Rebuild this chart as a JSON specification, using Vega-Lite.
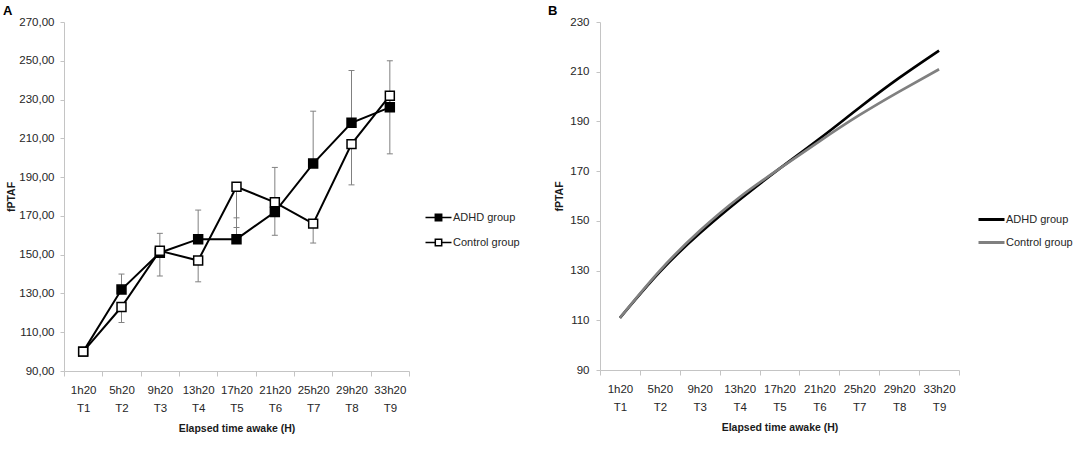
{
  "$schema": "https://vega.github.io/schema/vega-lite/v6.json",
  "background": "white",
  "padding": {"left": 3, "top": 5, "right": 5, "bottom": 5},
  "config": {
    "view": {"stroke": null},
    "font": "Liberation Sans",
    "axis": {
      "grid": false,
      "domainColor": "#c4c4c4",
      "tickColor": "#c4c4c4",
      "labelColor": "#262626",
      "labelFontSize": 11.5,
      "titleFontSize": 10.5,
      "titleFontWeight": "bold",
      "titleColor": "#1a1a1a",
      "labelOverlap": false
    },
    "legend": {"labelFontSize": 11, "labelColor": "#262626", "title": null}
  },
  "datasets": {
    "a": [
      {"time": "1h20 T1", "group": "ADHD group", "value": 100},
      {"time": "5h20 T2", "group": "ADHD group", "value": 132, "err": 140},
      {"time": "9h20 T3", "group": "ADHD group", "value": 151, "err": 161},
      {"time": "13h20 T4", "group": "ADHD group", "value": 158, "err": 173},
      {"time": "17h20 T5", "group": "ADHD group", "value": 158, "err": 169},
      {"time": "21h20 T6", "group": "ADHD group", "value": 172, "err": 195},
      {"time": "25h20 T7", "group": "ADHD group", "value": 197, "err": 224},
      {"time": "29h20 T8", "group": "ADHD group", "value": 218, "err": 245},
      {"time": "33h20 T9", "group": "ADHD group", "value": 226, "err": 250},
      {"time": "1h20 T1", "group": "Control group", "value": 100},
      {"time": "5h20 T2", "group": "Control group", "value": 123, "err": 115},
      {"time": "9h20 T3", "group": "Control group", "value": 152, "err": 139},
      {"time": "13h20 T4", "group": "Control group", "value": 147, "err": 136},
      {"time": "17h20 T5", "group": "Control group", "value": 185, "err": 164},
      {"time": "21h20 T6", "group": "Control group", "value": 177, "err": 160},
      {"time": "25h20 T7", "group": "Control group", "value": 166, "err": 156},
      {"time": "29h20 T8", "group": "Control group", "value": 207, "err": 186},
      {"time": "33h20 T9", "group": "Control group", "value": 232, "err": 202}
    ],
    "b": [
      {"time": "1h20 T1", "group": "ADHD group", "value": 111},
      {"time": "5h20 T2", "group": "ADHD group", "value": 129.5},
      {"time": "9h20 T3", "group": "ADHD group", "value": 145},
      {"time": "13h20 T4", "group": "ADHD group", "value": 158.5},
      {"time": "17h20 T5", "group": "ADHD group", "value": 171},
      {"time": "21h20 T6", "group": "ADHD group", "value": 183},
      {"time": "25h20 T7", "group": "ADHD group", "value": 195.5},
      {"time": "29h20 T8", "group": "ADHD group", "value": 207.5},
      {"time": "33h20 T9", "group": "ADHD group", "value": 218.5},
      {"time": "1h20 T1", "group": "Control group", "value": 111},
      {"time": "5h20 T2", "group": "Control group", "value": 130},
      {"time": "9h20 T3", "group": "Control group", "value": 146},
      {"time": "13h20 T4", "group": "Control group", "value": 159.5},
      {"time": "17h20 T5", "group": "Control group", "value": 171},
      {"time": "21h20 T6", "group": "Control group", "value": 182},
      {"time": "25h20 T7", "group": "Control group", "value": 192.5},
      {"time": "29h20 T8", "group": "Control group", "value": 202},
      {"time": "33h20 T9", "group": "Control group", "value": 211}
    ]
  },
  "bounds": "flush",
  "spacing": 191,
  "hconcat": [
    {
      "width": 345,
      "height": 349,
      "title": {"text": "A", "anchor": "start", "frame": "group", "dx": -61, "offset": -2, "fontSize": 13, "fontWeight": "bold", "color": "black"},
      "data": {"name": "a"},
      "encoding": {
        "x": {
          "field": "time", "type": "ordinal",
          "sort": ["1h20 T1", "5h20 T2", "9h20 T3", "13h20 T4", "17h20 T5", "21h20 T6", "25h20 T7", "29h20 T8", "33h20 T9"],
          "scale": {"paddingInner": 0, "paddingOuter": 0},
          "axis": {"title": "Elapsed time awake (H)", "labelAngle": 0, "labelExpr": "split(datum.label, ' ')", "labelLineHeight": 18, "labelBaseline": "top", "tickBand": "extent", "tickSize": 5, "labelPadding": 8, "titlePadding": 10}
        },
        "y": {
          "field": "value", "type": "quantitative",
          "scale": {"domain": [90, 270], "nice": false, "zero": false},
          "axis": {"title": "fPTAF", "values": [90, 110, 130, 150, 170, 190, 210, 230, 250, 270], "labelExpr": "replace(format(datum.value, '.2f'), '.', ',')", "tickSize": 4, "labelPadding": 6, "titlePadding": 2}
        }
      },
      "layer": [
        {
          "transform": [{"filter": "isValid(datum.err)"}],
          "mark": {"type": "rule", "color": "#808080", "strokeWidth": 1},
          "encoding": {
            "y2": {"field": "err"}
          }
        },
        {
          "transform": [{"filter": "isValid(datum.err)"}],
          "mark": {"type": "tick", "color": "#808080", "thickness": 1, "size": 6, "opacity": 1},
          "encoding": {
            "y": {
              "field": "err", "type": "quantitative",
              "axis": {"title": "fPTAF", "values": [90, 110, 130, 150, 170, 190, 210, 230, 250, 270], "labelExpr": "replace(format(datum.value, '.2f'), '.', ',')", "tickSize": 4, "labelPadding": 6, "titlePadding": 2}
            }
          }
        },
        {
          "mark": {"type": "line", "color": "black", "strokeWidth": 2},
          "encoding": {
            "detail": {"field": "group"}
          }
        },
        {
          "mark": {"type": "point", "shape": "square", "size": 80, "filled": true, "stroke": "black", "strokeWidth": 1.5, "opacity": 1},
          "encoding": {
            "fill": {
              "field": "group", "type": "nominal",
              "scale": {"domain": ["ADHD group", "Control group"], "range": ["black", "white"]},
              "legend": {"orient": "none", "legendX": 369, "legendY": 190, "symbolType": "M-3.25,0H-0.8M0.8,0H3.25M-0.8,-0.8H0.8V0.8H-0.8Z", "symbolSize": 64, "symbolStrokeColor": "black", "symbolStrokeWidth": 1.5, "symbolOpacity": 1, "labelOffset": 9, "rowPadding": 12}
            }
          }
        }
      ]
    },
    {
      "width": 359,
      "height": 348,
      "title": {"text": "B", "anchor": "start", "frame": "group", "dx": -52, "offset": -2, "fontSize": 13, "fontWeight": "bold", "color": "black"},
      "data": {"name": "b"},
      "mark": {"type": "line", "interpolate": "natural", "strokeWidth": 2.7},
      "encoding": {
        "x": {
          "field": "time", "type": "ordinal",
          "sort": ["1h20 T1", "5h20 T2", "9h20 T3", "13h20 T4", "17h20 T5", "21h20 T6", "25h20 T7", "29h20 T8", "33h20 T9"],
          "scale": {"paddingInner": 0, "paddingOuter": 0},
          "axis": {"title": "Elapsed time awake (H)", "labelAngle": 0, "labelExpr": "split(datum.label, ' ')", "labelLineHeight": 18, "labelBaseline": "top", "tickBand": "extent", "tickSize": 5, "labelPadding": 8, "titlePadding": 10}
        },
        "y": {
          "field": "value", "type": "quantitative",
          "scale": {"domain": [90, 230], "nice": false, "zero": false},
          "axis": {"title": "fPTAF", "values": [90, 110, 130, 150, 170, 190, 210, 230], "tickSize": 4, "labelPadding": 7, "titlePadding": 5}
        },
        "stroke": {
          "field": "group", "type": "nominal",
          "scale": {"domain": ["ADHD group", "Control group"], "range": ["black", "#808080"]},
          "legend": {"orient": "none", "legendX": 377, "legendY": 183, "symbolType": "stroke", "symbolSize": 676, "symbolStrokeWidth": 3, "labelOffset": 0, "rowPadding": 2}
        }
      }
    }
  ],
  "resolve": {"scale": {"x": "independent", "y": "independent", "fill": "independent", "stroke": "independent"}}
}
